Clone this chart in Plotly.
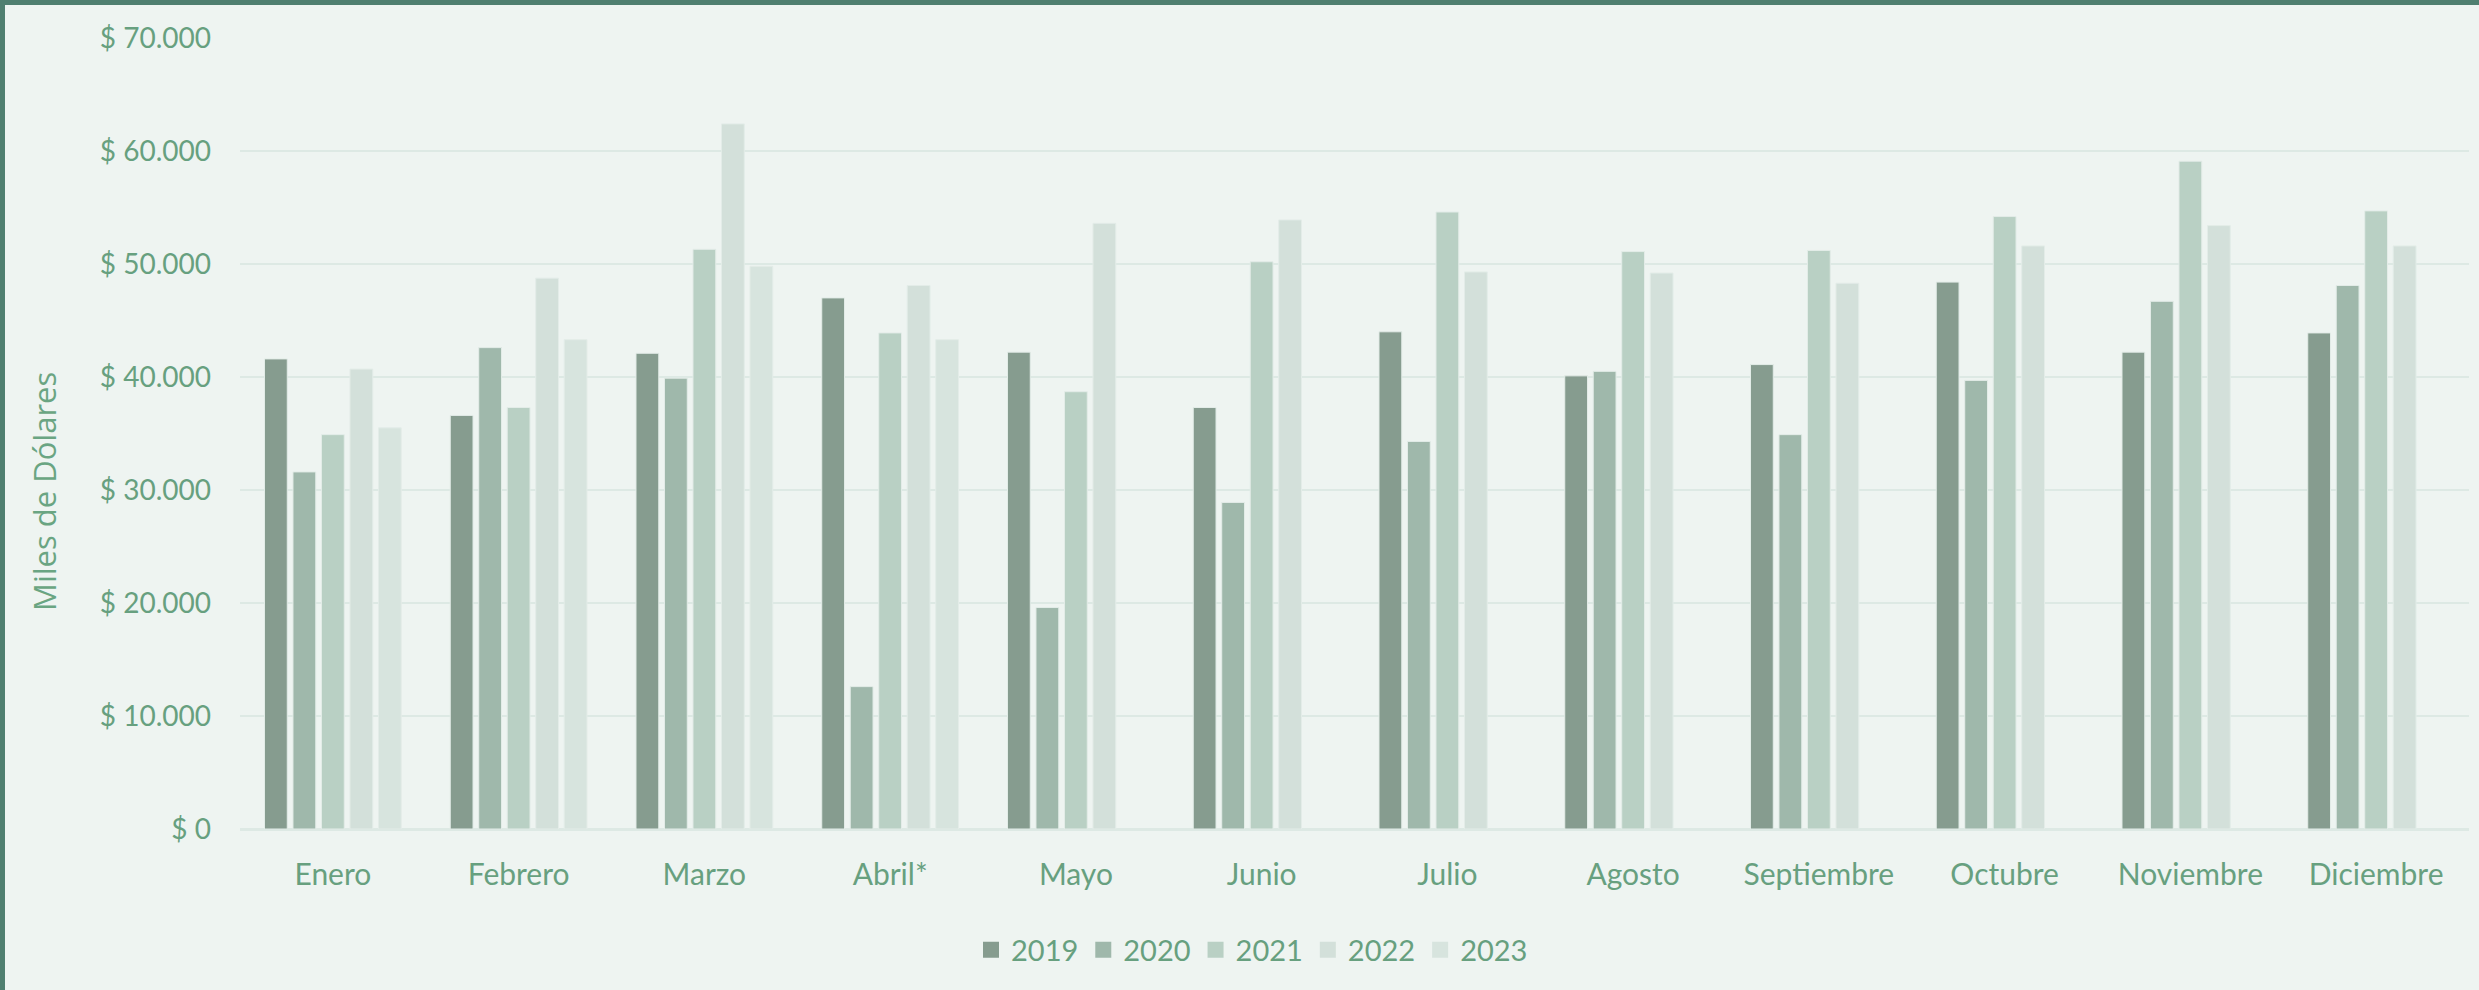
import plotly.graph_objects as go

# ---- data ----
meses = ["Enero", "Febrero", "Marzo", "Abril*", "Mayo", "Junio", "Julio",
         "Agosto", "Septiembre", "Octubre", "Noviembre", "Diciembre"]
anios = ["2019", "2020", "2021", "2022", "2023"]

v2019 = [41600, 36600, 42100, 47000, 42200, 37300, 44000, 40100, 41100, 48400, 42200, 43900]
v2020 = [31600, 42600, 39900, 12600, 19600, 28900, 34300, 40500, 34900, 39700, 46700, 48100]
v2021 = [34900, 37300, 51300, 43900, 38700, 50200, 54600, 51100, 51200, 54200, 59100, 54700]
v2022 = [40700, 48750, 62400, 48100, 53600, 53900, 49300, 49200, 48300, 51600, 53400, 51600]
v2023 = [35500, 43300, 49800, 43300, None, None, None, None, None, None, None, None]

tick_vals = [0, 10000, 20000, 30000, 40000, 50000, 60000, 70000]
tick_text = ["$ 0", "$ 10.000", "$ 20.000", "$ 30.000", "$ 40.000",
             "$ 50.000", "$ 60.000", "$ 70.000"]

series = [v2019, v2020, v2021, v2022, v2023]
colores = ["#869c8f", "#9fb8ab", "#b9d0c4", "#d3e0da", "#d7e4de"]

# ---- style ----
W, H = 2479, 990
ML, MR, MT, MB = 240, 10, 38, 161
TXT = "#67a07f"
BG = "#eef4f1"
GRID = "#dde9e4"
FONT = "Lato"

fig = go.Figure()
for nombre, vals, col in zip(anios, series, colores):
    fig.add_trace(go.Bar(
        x=meses, y=vals, name=nombre, legendgroup=nombre, showlegend=False,
        marker=dict(color=col, line=dict(color="#e3ece8", width=1)),
    ))
# legend entries with larger square swatches
for nombre, col in zip(anios, colores):
    fig.add_trace(go.Scatter(
        x=[meses[0]], y=[None], name=nombre, legendgroup=nombre,
        mode="markers", showlegend=True, hoverinfo="skip",
        marker=dict(symbol="square", size=16, color=col),
    ))

pw = W - ML - MR
ph = H - MT - MB

def px_x(p):
    return (p - ML) / pw

def px_y(p):
    return (H - MB - p) / ph

fig.update_layout(
    width=W, height=H,
    margin=dict(l=ML, r=MR, t=MT, b=MB, pad=0),
    paper_bgcolor=BG, plot_bgcolor=BG,
    barmode="group", bargap=0.233, bargroupgap=0.2,
    font=dict(family=FONT, color=TXT, size=28),
    showlegend=True,
    legend=dict(
        orientation="h", x=px_x(1252), y=px_y(950),
        xanchor="center", yanchor="middle",
        font=dict(family=FONT, size=29, color=TXT),
        bgcolor="rgba(0,0,0,0)", itemwidth=30, traceorder="normal",
    ),
    xaxis=dict(
        type="category", categoryorder="array", categoryarray=meses,
        range=[-0.5, len(meses) - 0.5],
        showgrid=False, showline=True, linecolor=GRID, linewidth=2,
        ticks="", tickfont=dict(family=FONT, size=30, color=TXT),
        ticklabelstandoff=18,
    ),
    yaxis=dict(
        range=[0, 70000], tickvals=tick_vals, ticktext=tick_text,
        showgrid=True, gridcolor=GRID, gridwidth=2,
        zeroline=True, zerolinecolor=GRID, zerolinewidth=2,
        showline=False, ticks="",
        tickfont=dict(family=FONT, size=28, color=TXT),
        ticklabelstandoff=28,
    ),
    annotations=[dict(
        text="Miles de Dólares", textangle=-90,
        xref="paper", yref="paper", x=px_x(44), y=px_y(492),
        xanchor="center", yanchor="middle", showarrow=False,
        font=dict(family="Open Sans", size=31, color="#6aa582"),
    )],
    shapes=[
        dict(type="rect", xref="paper", yref="paper",
             x0=px_x(0), x1=px_x(W), y0=px_y(0), y1=px_y(5),
             fillcolor="#4f7f70", line=dict(width=0), layer="above"),
        dict(type="rect", xref="paper", yref="paper",
             x0=px_x(0), x1=px_x(5), y0=px_y(0), y1=px_y(H),
             fillcolor="#4f7f70", line=dict(width=0), layer="above"),
    ],
)

fig.write_html("out.html", config={"displayModeBar": False},
               post_script="document.body.style.margin='0';document.body.style.overflow='hidden';")
